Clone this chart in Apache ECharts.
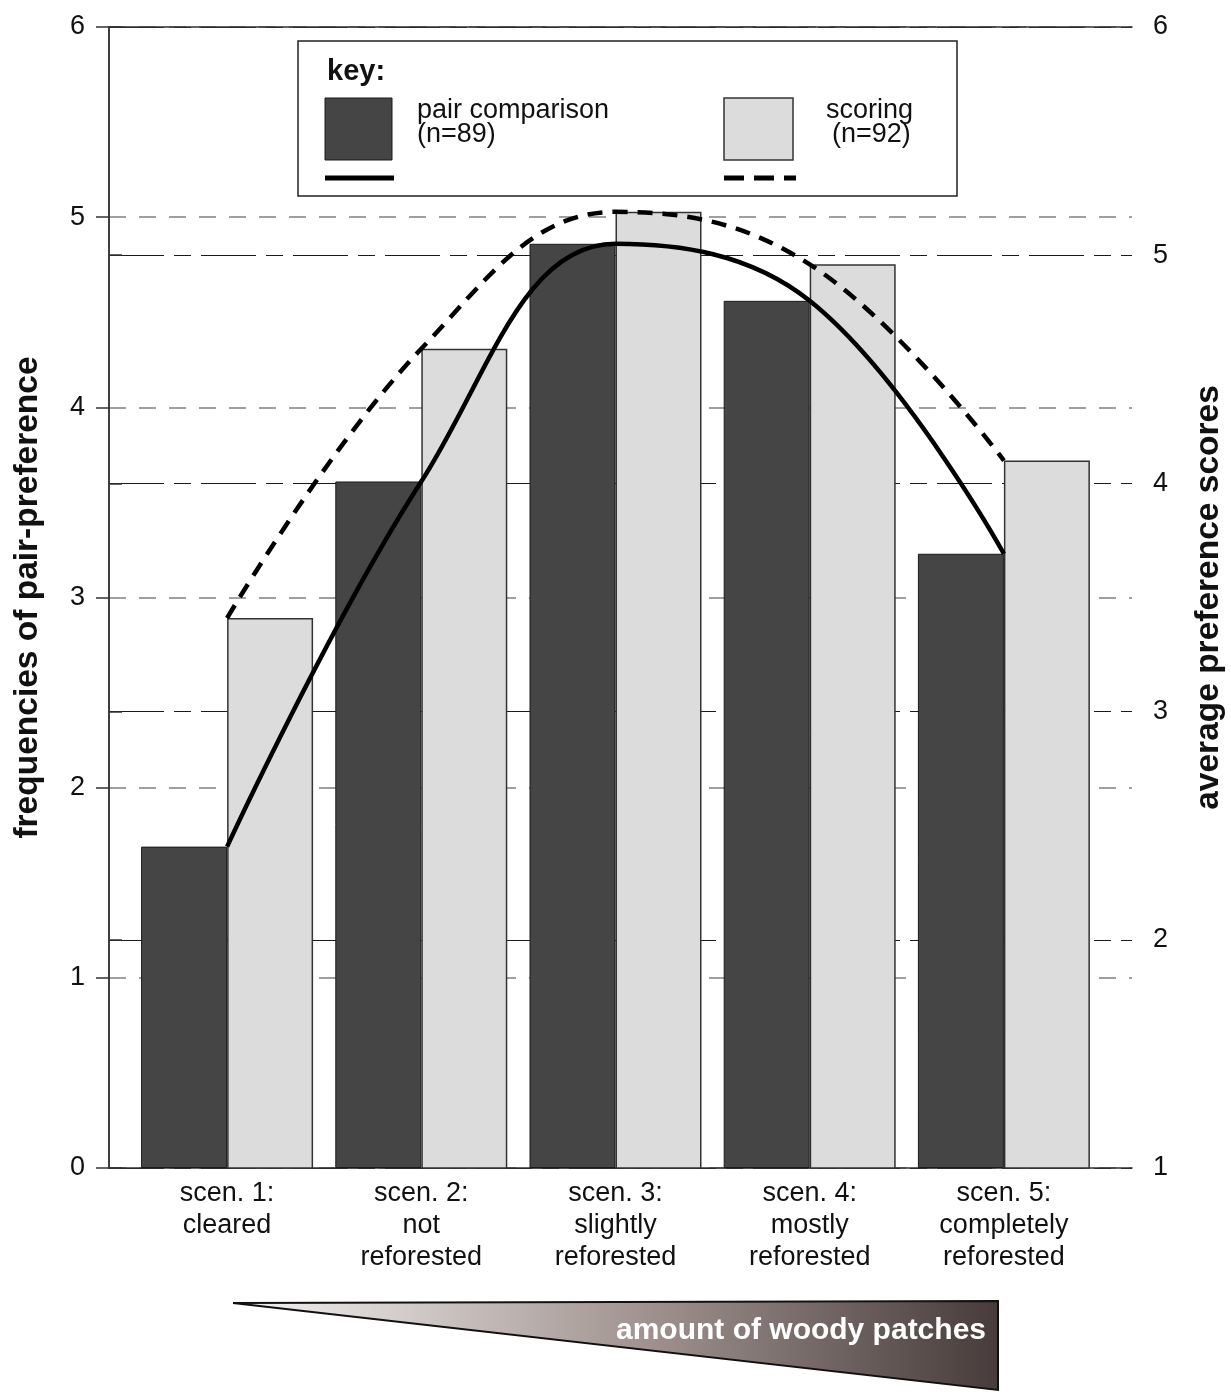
<!DOCTYPE html>
<html>
<head>
<meta charset="utf-8">
<script src="https://cdn.jsdelivr.net/npm/echarts@6/dist/echarts.min.js"></script>
<style>
html,body{margin:0;padding:0;background:#fff;}
#chart{width:1231px;height:1392px;}
</style>
</head>
<body>
<div id="chart"></div>
<script>
// ---- data ----
const categories = [
  'scen. 1:\ncleared',
  'scen. 2:\nnot\nreforested',
  'scen. 3:\nslightly\nreforested',
  'scen. 4:\nmostly\nreforested',
  'scen. 5:\ncompletely\nreforested'
];
// dark bars, left axis (frequencies of pair-preference)
const pairComparison = [1.69, 3.61, 4.86, 4.56, 3.23];
// light bars, right axis (average preference scores)
const scoring = [3.41, 4.59, 5.19, 4.96, 4.10];
const leftAxisRange = {min: 0, max: 6, interval: 1};
const rightAxisRange = {min: 1, max: 6, interval: 1};
const leftTitle = 'frequencies of pair-preference';
const rightTitle = 'average preference scores';
const keyLabels = {title: 'key:', pair: 'pair comparison\n(n=89)', scoringA: 'scoring', scoringB: '(n=92)'};
const wedgeLabel = 'amount of woody patches';

const FONT = '"Liberation Sans", Arial, sans-serif';
const chart = echarts.init(document.getElementById('chart'), null, {renderer: 'canvas'});

const option = {
  backgroundColor: '#fff',
  animation: false,
  textStyle: {fontFamily: FONT},
  grid: [
    {left: 109, right: 99, top: 27, bottom: 224, containLabel: false, outerBoundsMode: 'none'},
    {left: 130, right: 130, top: 27, bottom: 224, containLabel: false, outerBoundsMode: 'none'}
  ],
  xAxis: [
    {type: 'value', gridIndex: 0, min: 0, max: 1, position: 'bottom',
     axisLine: {show: true, lineStyle: {color: '#333', width: 1.5}},
     axisTick: {show: false}, axisLabel: {show: false}, splitLine: {show: false}},
    {type: 'value', gridIndex: 0, min: 0, max: 1, position: 'top',
     axisLine: {show: true, onZero: false, lineStyle: {color: '#333', width: 1.5}},
     axisTick: {show: false}, axisLabel: {show: false}, splitLine: {show: false}},
    {type: 'category', gridIndex: 1, data: categories, boundaryGap: true,
     axisLine: {show: false}, axisTick: {show: false}, splitLine: {show: false},
     axisLabel: {show: true, interval: 0, color: '#111', fontFamily: FONT, fontSize: 27,
       lineHeight: 32, margin: 10, verticalAlign: 'top', align: 'center'}}
  ],
  yAxis: [
    {type: 'value', gridIndex: 0, position: 'left', min: leftAxisRange.min, max: leftAxisRange.max,
     interval: leftAxisRange.interval,
     axisLine: {show: true, lineStyle: {color: '#333', width: 1.5}},
     axisTick: {show: true, inside: false, length: 13, lineStyle: {color: '#333', width: 1.5}},
     axisLabel: {show: true, margin: 24, color: '#111', fontFamily: FONT, fontSize: 27},
     splitLine: {show: true, lineStyle: {color: '#808080', width: 1.5, type: [17, 13]}},
     name: leftTitle, nameLocation: 'middle', nameGap: 64, nameRotate: 90,
     nameTextStyle: {fontFamily: FONT, fontWeight: 'bold', fontSize: 33.5, color: '#111'}},
    {type: 'value', gridIndex: 0, position: 'right', min: rightAxisRange.min, max: rightAxisRange.max,
     interval: rightAxisRange.interval,
     axisLine: {show: true, lineStyle: {color: '#333', width: 1.5}},
     axisTick: {show: true, inside: false, length: 13, lineStyle: {color: '#333', width: 1.5}},
     axisLabel: {show: true, margin: 21, color: '#111', fontFamily: FONT, fontSize: 27},
     splitLine: {show: true, lineStyle: {color: '#1a1a1a', width: 1.2, type: [55, 10, 17, 10]}},
     name: rightTitle, nameLocation: 'middle', nameGap: 60, nameRotate: 90,
     nameTextStyle: {fontFamily: FONT, fontWeight: 'bold', fontSize: 33.5, color: '#111'}},
    {type: 'value', gridIndex: 1, min: leftAxisRange.min, max: leftAxisRange.max, show: false,
     splitLine: {show: false}},
    {type: 'value', gridIndex: 1, min: rightAxisRange.min, max: rightAxisRange.max, show: false,
     splitLine: {show: false}}
  ],
  series: [
    {name: 'pair comparison', type: 'bar', xAxisIndex: 2, yAxisIndex: 2, data: pairComparison,
     barWidth: 86, barGap: '0%', z: 2,
     itemStyle: {color: '#454545', borderColor: '#1a1a1a', borderWidth: 1}},
    {name: 'scoring', type: 'bar', xAxisIndex: 2, yAxisIndex: 3, data: scoring,
     barWidth: 86, barGap: '0%', z: 2,
     itemStyle: {color: '#dcdcdc', borderColor: '#333', borderWidth: 1.5}},
    {name: 'pair comparison trend', type: 'line', xAxisIndex: 2, yAxisIndex: 2, data: pairComparison,
     smooth: 0.4, symbol: 'none', z: 5,
     lineStyle: {color: '#000', width: 4.5}},
    {name: 'scoring trend', type: 'line', xAxisIndex: 2, yAxisIndex: 3, data: scoring,
     smooth: 0.4, symbol: 'none', z: 5,
     lineStyle: {color: '#000', width: 4.5, type: [15, 10]}}
  ],
  graphic: [
    // key box
    {type: 'rect', z: 10, shape: {x: 298, y: 41, width: 659, height: 155},
     style: {fill: '#fff', stroke: '#222', lineWidth: 1.5}},
    {type: 'text', z: 11, x: 327, y: 72,
     style: {text: keyLabels.title, fontFamily: FONT, fontWeight: 'bold', fontSize: 29, fill: '#111', verticalAlign: 'middle'}},
    {type: 'rect', z: 11, shape: {x: 325, y: 98, width: 67, height: 62},
     style: {fill: '#454545', stroke: '#1a1a1a', lineWidth: 1}},
    {type: 'text', z: 11, x: 417, y: 123,
     style: {text: keyLabels.pair, fontFamily: FONT, fontSize: 27, lineHeight: 24, fill: '#111', verticalAlign: 'middle'}},
    {type: 'line', z: 11, shape: {x1: 325, y1: 178, x2: 394, y2: 178},
     style: {stroke: '#000', lineWidth: 5}},
    {type: 'rect', z: 11, shape: {x: 724, y: 98, width: 69, height: 62},
     style: {fill: '#dcdcdc', stroke: '#333', lineWidth: 1.5}},
    {type: 'text', z: 11, x: 826, y: 111,
     style: {text: keyLabels.scoringA, fontFamily: FONT, fontSize: 27, fill: '#111', verticalAlign: 'middle'}},
    {type: 'text', z: 11, x: 832, y: 135,
     style: {text: keyLabels.scoringB, fontFamily: FONT, fontSize: 27, fill: '#111', verticalAlign: 'middle'}},
    {type: 'line', z: 11, shape: {x1: 724, y1: 178, x2: 796, y2: 178},
     style: {stroke: '#000', lineWidth: 5, lineDash: [20, 10]}},
    // wedge
    {type: 'polygon', z: 10, shape: {points: [[233, 1303], [998, 1301], [998, 1390]]},
     style: {
       fill: new echarts.graphic.LinearGradient(0, 0, 1, 0, [
         {offset: 0, color: '#f6f4f4'},
         {offset: 0.5, color: '#a79a96'},
         {offset: 1, color: '#473b3b'}
       ]),
       stroke: '#111', lineWidth: 2
     }},
    {type: 'text', z: 11, x: 986, y: 1331,
     style: {text: wedgeLabel, fontFamily: FONT, fontWeight: 'bold', fontSize: 30, fill: '#fff',
       align: 'right', verticalAlign: 'middle'}}
  ]
};
chart.setOption(option);
</script>
</body>
</html>
